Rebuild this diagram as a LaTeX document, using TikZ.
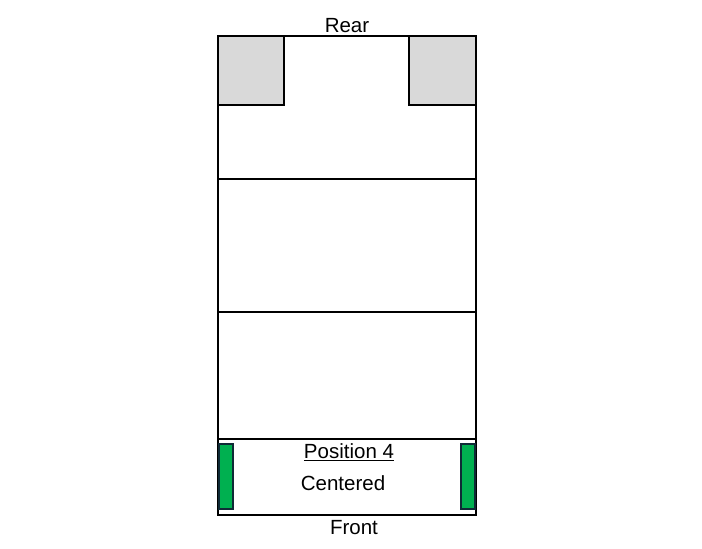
\documentclass[tikz,border=0pt]{standalone}
\usepackage{fontspec}
\setmainfont{Liberation Sans}
\definecolor{grayfill}{HTML}{D9D9D9}
\definecolor{greenfill}{HTML}{00B050}
\definecolor{greenedge}{HTML}{0F2A36}
\begin{document}
\begin{tikzpicture}[x=1pt,y=-1pt,
  outline/.style={draw=black,line width=1.6pt},
  graybox/.style={draw=black,line width=1.6pt,fill=grayfill},
  greenbar/.style={draw=greenedge,line width=1.6pt,fill=greenfill},
  label/.style={font=\fontsize{20.5}{23}\selectfont,inner sep=0pt}]
\useasboundingbox (0,0) rectangle (702,549);
\draw[outline] (218,36) rectangle (476,515);
\draw[graybox] (218,36) rectangle (284,105);
\draw[graybox] (409,36) rectangle (476,105);
\coordinate (l1) at (218,179); \coordinate (r1) at (476,179);
\coordinate (l2) at (218,312); \coordinate (r2) at (476,312);
\coordinate (l3) at (218,439); \coordinate (r3) at (476,439);
\draw[outline] (l1) -- (r1);
\draw[outline] (l2) -- (r2);
\draw[outline] (l3) -- (r3);
\draw[greenbar] (218.8,444) rectangle (233,509);
\draw[greenbar] (461,444) rectangle (475.2,509);
\node[label] (rear) at (347,26) {Rear};
\node[label] (pos) at (349,452) {\underline{Position 4}};
\node[label] (cent) at (343,483) {Centered};
\node[label] (front) at (354,528) {Front};
\end{tikzpicture}
\end{document}
